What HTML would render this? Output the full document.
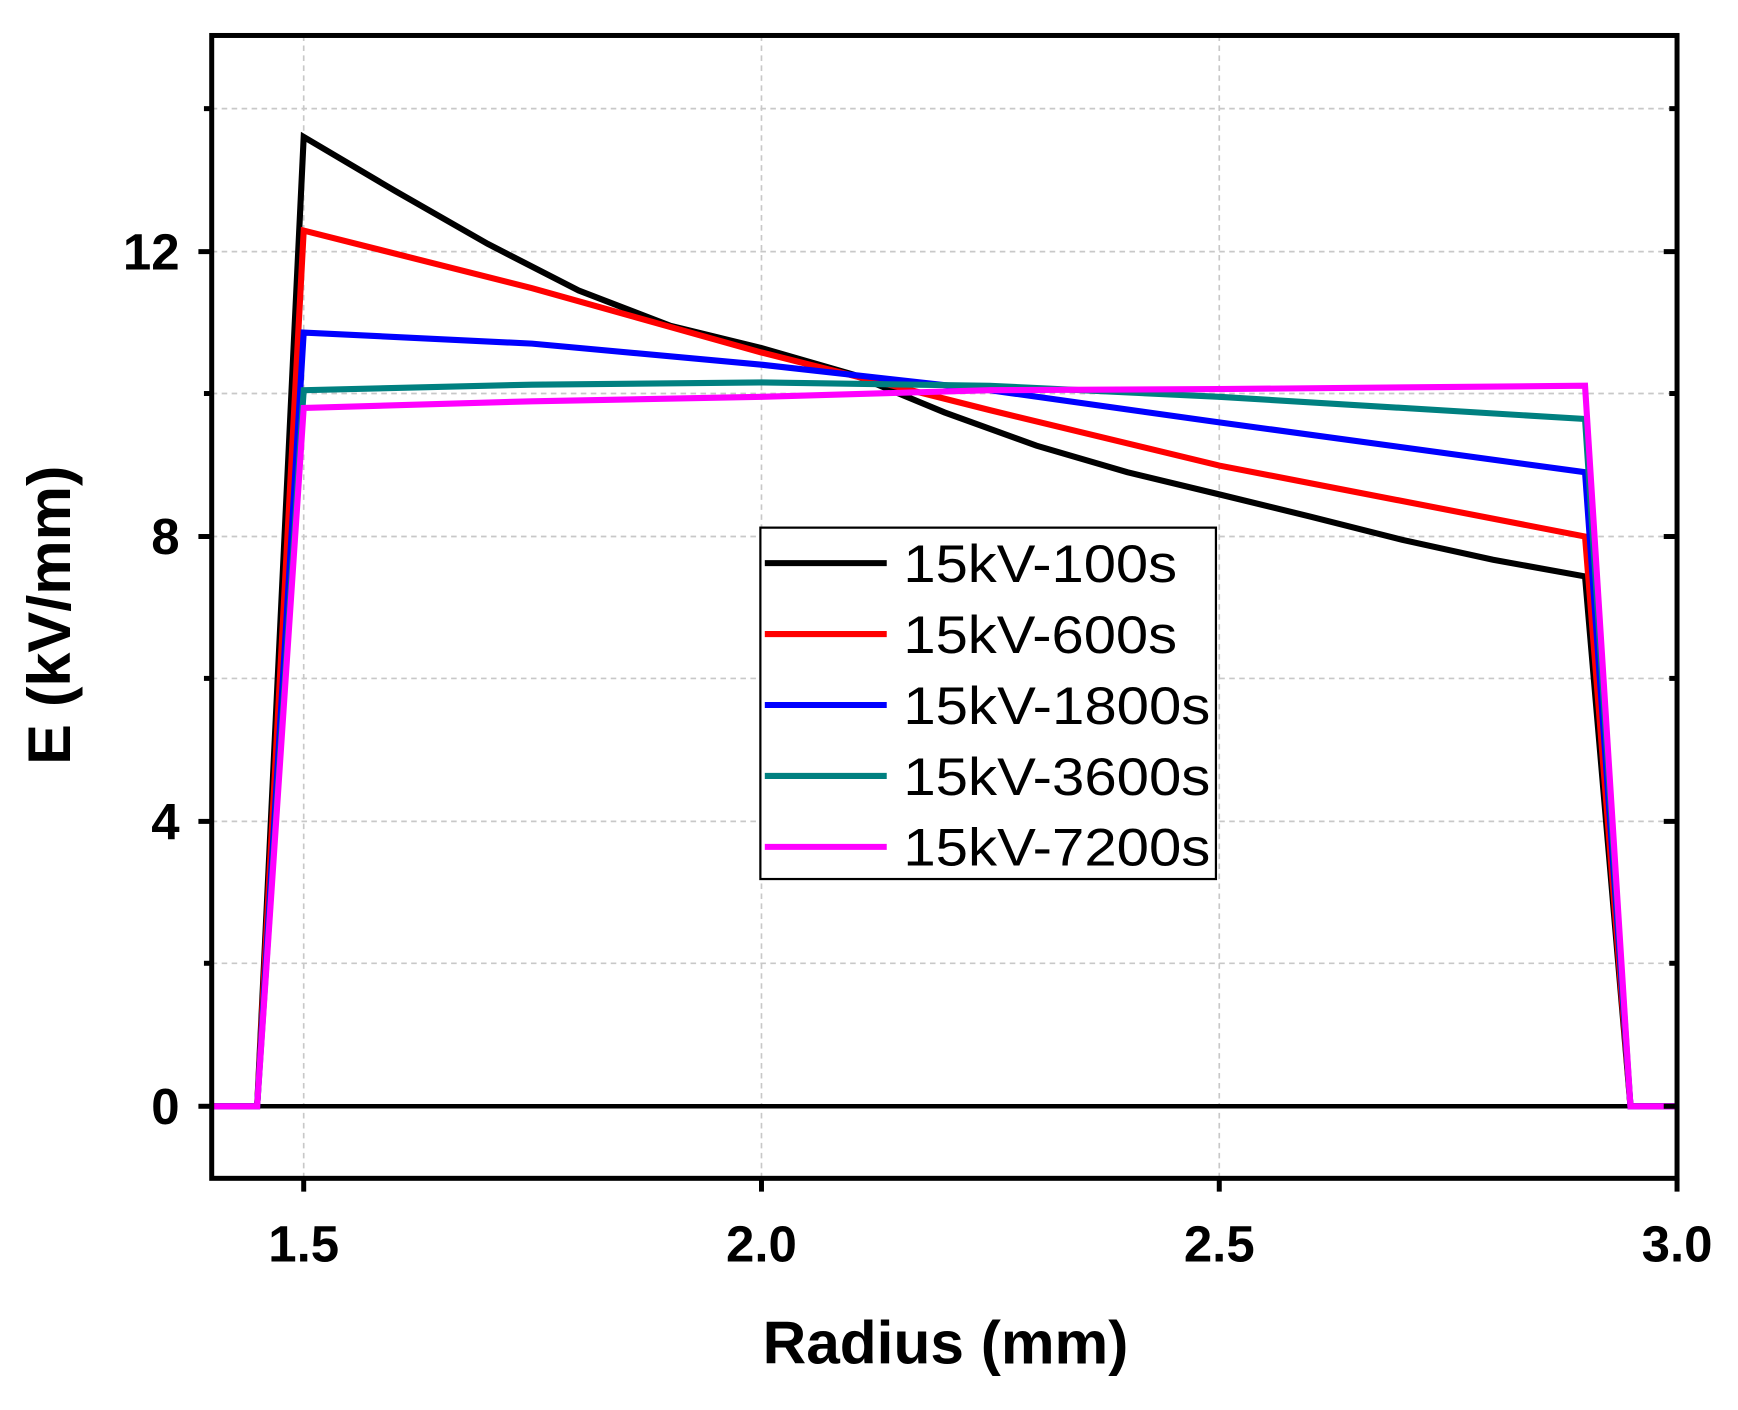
<!DOCTYPE html>
<html><head><meta charset="utf-8"><style>html,body{margin:0;padding:0;background:#fff}svg{display:block}</style></head>
<body>
<svg width="1738" height="1410" viewBox="0 0 1568 1272" preserveAspectRatio="none" xmlns="http://www.w3.org/2000/svg" font-family="Liberation Sans, Arial, sans-serif">
<rect width="1568" height="1272" fill="#fff"/>
<g stroke="#c8c8c8" stroke-width="1.5" stroke-dasharray="5,4">
<line x1="274" y1="32" x2="274" y2="1063"/>
<line x1="687" y1="32" x2="687" y2="1063"/>
<line x1="1100" y1="32" x2="1100" y2="1063"/>
<line x1="191" y1="98" x2="1513" y2="98"/>
<line x1="191" y1="227" x2="1513" y2="227"/>
<line x1="191" y1="355" x2="1513" y2="355"/>
<line x1="191" y1="484" x2="1513" y2="484"/>
<line x1="191" y1="612" x2="1513" y2="612"/>
<line x1="191" y1="741" x2="1513" y2="741"/>
<line x1="191" y1="869" x2="1513" y2="869"/>
</g>
<line x1="191" y1="998" x2="1513" y2="998" stroke="#000" stroke-width="4"/>
<g fill="none" stroke-width="5.5" stroke-linejoin="miter">
<polyline stroke="#000" points="191,998 232,998 274,123.5 356,172 440,220 522,262 605,294 687,314 770,338 852,372 935,402 1017,426 1100,446 1182,466 1265,487 1347,505 1430,520 1471,998 1513,998"/>
<polyline stroke="#f00" points="191,998 232,998 274,208 480,260 687,318 893,370 1100,420 1430,484 1471,998 1513,998"/>
<polyline stroke="#00f" points="191,998 232,998 274,300 480,310 687,329 893,352 1100,381 1430,426 1471,998 1513,998"/>
<polyline stroke="#008080" points="191,998 232,998 274,352 480,347 687,345 893,348 1100,358 1430,378 1471,998 1513,998"/>
<polyline stroke="#f0f" points="191,998 232,998 274,368 480,362 687,358 893,352 1100,351 1430,348 1471,998 1513,998"/>
</g>
<rect x="191" y="32" width="1322" height="1031" fill="none" stroke="#000" stroke-width="4.5"/>
<g stroke="#000" stroke-width="4.5">
<line x1="179" y1="998" x2="191" y2="998"/><line x1="179" y1="741" x2="191" y2="741"/><line x1="179" y1="484" x2="191" y2="484"/><line x1="179" y1="227" x2="191" y2="227"/>
<line x1="184" y1="869" x2="191" y2="869"/><line x1="184" y1="612" x2="191" y2="612"/><line x1="184" y1="355" x2="191" y2="355"/><line x1="184" y1="98" x2="191" y2="98"/>
<line x1="1501" y1="998" x2="1513" y2="998"/><line x1="1501" y1="741" x2="1513" y2="741"/><line x1="1501" y1="484" x2="1513" y2="484"/><line x1="1501" y1="227" x2="1513" y2="227"/>
<line x1="1506" y1="869" x2="1513" y2="869"/><line x1="1506" y1="612" x2="1513" y2="612"/><line x1="1506" y1="355" x2="1513" y2="355"/><line x1="1506" y1="98" x2="1513" y2="98"/>
<line x1="274" y1="1063" x2="274" y2="1075"/><line x1="687" y1="1063" x2="687" y2="1075"/><line x1="1100" y1="1063" x2="1100" y2="1075"/><line x1="1513" y1="1063" x2="1513" y2="1075"/>
</g>
<g font-weight="bold" font-size="46" fill="#000">
<g text-anchor="end"><text x="162" y="1014">0</text><text x="162" y="757">4</text><text x="162" y="500">8</text><text x="162" y="243">12</text></g>
<g text-anchor="middle"><text x="274" y="1138">1.5</text><text x="687" y="1138">2.0</text><text x="1100" y="1138">2.5</text><text x="1513" y="1138">3.0</text></g>
<text x="853" y="1230" font-size="54" text-anchor="middle" textLength="330" lengthAdjust="spacingAndGlyphs">Radius (mm)</text>
<text transform="translate(63,555) rotate(-90)" font-size="54" text-anchor="middle" textLength="270" lengthAdjust="spacingAndGlyphs">E (kV/mm)</text>
</g>
<rect x="686" y="476" width="411" height="317" fill="#fff" stroke="#000" stroke-width="2"/>
<g stroke-width="5.5">
<line x1="690" y1="508" x2="800" y2="508" stroke="#000"/>
<line x1="690" y1="572" x2="800" y2="572" stroke="#f00"/>
<line x1="690" y1="636" x2="800" y2="636" stroke="#00f"/>
<line x1="690" y1="700" x2="800" y2="700" stroke="#008080"/>
<line x1="690" y1="764" x2="800" y2="764" stroke="#f0f"/>
</g>
<g font-size="48" fill="#000">
<text x="815" y="525" textLength="247" lengthAdjust="spacingAndGlyphs">15kV-100s</text><text x="815" y="589" textLength="247" lengthAdjust="spacingAndGlyphs">15kV-600s</text><text x="815" y="653" textLength="277" lengthAdjust="spacingAndGlyphs">15kV-1800s</text><text x="815" y="717" textLength="277" lengthAdjust="spacingAndGlyphs">15kV-3600s</text><text x="815" y="781" textLength="277" lengthAdjust="spacingAndGlyphs">15kV-7200s</text>
</g>
</svg>
</body></html>
